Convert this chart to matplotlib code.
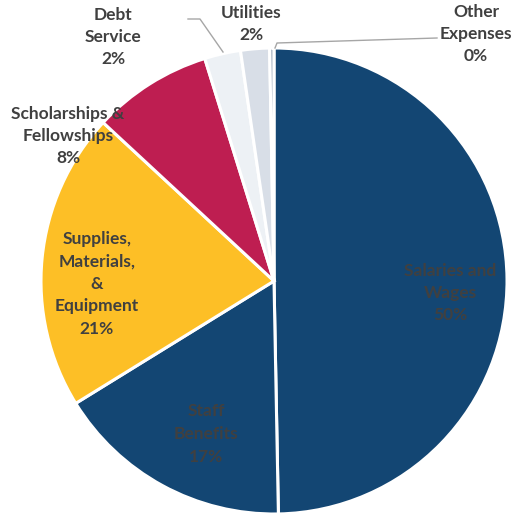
import matplotlib
matplotlib.use("Agg")
import matplotlib.pyplot as plt

# data (share of expenses, %)
categories = ["Salaries and\nWages", "Staff\nBenefits", "Supplies,\nMaterials,\n&\nEquipment",
              "Scholarships &\nFellowships", "Debt\nService", "Utilities", "Other\nExpenses"]
values = [49.7, 16.5, 20.7, 8.3, 2.5, 2.0, 0.3]
pct_labels = ["50%", "17%", "21%", "8%", "2%", "2%", "0%"]

colors = ["#134673", "#134673", "#FDBF26", "#BE1E51", "#EDF1F5", "#D8DEE7", "#A9B4C2"]
explode = [0.018, 0, 0, 0, 0, 0, 0]

W, H = 515, 514
# label centres in image pixels (x, y from top)
label_pos = [(450, 293), (206, 434), (97, 284), (68, 136), (113, 37), (251, 24), (476, 34)]
line_gap = [1.5, 1.5, 1.5, 1.45, 1.45, 1.45, 1.45]


def img(x, y):
    return x, H - y


fig = plt.figure(figsize=(W / 100, H / 100), dpi=100)
ax = fig.add_axes([0, 0, 1, 1])

cx, cy = img(274, 281)
ax.pie(values, colors=colors, startangle=90, counterclock=False, explode=explode,
       center=(cx, cy), radius=233, frame=True,
       wedgeprops=dict(edgecolor="white", linewidth=2.2))
ax.set_xlim(0, W)
ax.set_ylim(0, H)
ax.set_aspect("equal")
ax.axis("off")

for i, (cat, pct) in enumerate(zip(categories, pct_labels)):
    x, y = img(*label_pos[i])
    ax.text(x, y, cat + "\n" + pct, ha="center", va="center", fontsize=12.5,
            fontweight="bold", family=["Lato", "DejaVu Sans"], color="#404040",
            linespacing=line_gap[i])

# leader lines
lx, ly = zip(*[img(188, 19), img(200, 19), img(223, 52)])
ax.plot(lx, ly, color="#A6A6A6", lw=1)
lx, ly = zip(*[img(275, 48), img(277, 43), img(437, 38)])
ax.plot(lx, ly, color="#A6A6A6", lw=1)

fig.savefig("out.png", dpi=100)
